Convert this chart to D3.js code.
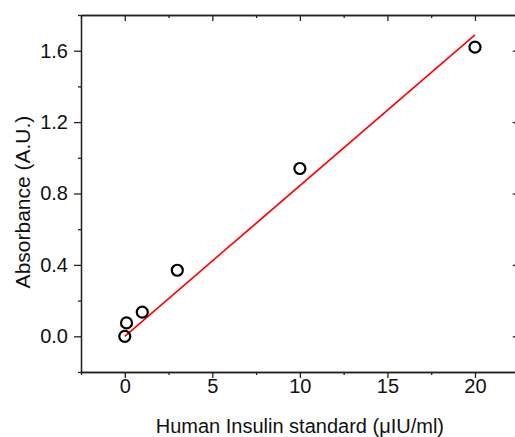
<!DOCTYPE html>
<html>
<head>
<meta charset="utf-8">
<script src="https://cdn.jsdelivr.net/npm/d3@7"></script>
<style>
  body { margin: 0; background: #fff; }
  svg { display: block; font-family: "Liberation Sans", Arial, sans-serif; }
  .axis path, .axis line { stroke: #222; stroke-width: 1.3; }
  .axis text { font-size: 20px; fill: #111; }
</style>
</head>
<body>
<div id="chart"></div>
<script>
// Insulin standard concentrations and measured absorbance
var concentration = [0, 0.1, 1, 3, 10, 20];
var absorbance = [0, 0.075, 0.135, 0.37, 0.94, 1.62];

var xTicks = [0, 5, 10, 15, 20];
var xMinor = [-2.5, 2.5, 7.5, 12.5, 17.5, 22.5];
var yTicks = [0, 0.4, 0.8, 1.2, 1.6];
var yMinor = [-0.2, 0.2, 0.6, 1.0, 1.4, 1.8];

var svgWidth = 515;
var svgHeight = 437;

var svg = d3.select("#chart")
    .append("svg")
    .attr("width", svgWidth)
    .attr("height", svgHeight);

// Plot frame edges
var frame = { left: 81, top: 15, right: 518.75, bottom: 372 };

var x = d3.scaleLinear().domain([-2.5, 22.5]).range([frame.left, frame.right]);
var y = d3.scaleLinear().domain([-0.2, 1.8]).range([frame.bottom, frame.top]);

// bottom axis (outward ticks)
svg.append("g")
    .attr("class", "axis")
    .attr("transform", `translate(0, ${frame.bottom})`)
    .call(d3.axisBottom(x).tickValues(xTicks).tickSize(6).tickPadding(1).tickSizeOuter(0).tickFormat(d3.format("d")));
svg.append("g")
    .attr("class", "axis")
    .attr("transform", `translate(0, ${frame.bottom})`)
    .call(d3.axisBottom(x).tickValues(xMinor).tickSize(3).tickSizeOuter(0).tickFormat(""));

// top axis (inward ticks)
svg.append("g")
    .attr("class", "axis")
    .attr("transform", `translate(0, ${frame.top})`)
    .call(d3.axisTop(x).tickValues(xTicks).tickSize(-6).tickSizeOuter(0).tickFormat(""));
svg.append("g")
    .attr("class", "axis")
    .attr("transform", `translate(0, ${frame.top})`)
    .call(d3.axisTop(x).tickValues(xMinor).tickSize(-3).tickSizeOuter(0).tickFormat(""));

// left axis (outward ticks)
svg.append("g")
    .attr("class", "axis")
    .attr("transform", `translate(${frame.left}, 0)`)
    .call(d3.axisLeft(y).tickValues(yTicks).tickSize(7).tickPadding(6).tickSizeOuter(0).tickFormat(d3.format(".1f")));
svg.append("g")
    .attr("class", "axis")
    .attr("transform", `translate(${frame.left}, 0)`)
    .call(d3.axisLeft(y).tickValues(yMinor).tickSize(3).tickSizeOuter(0).tickFormat(""));

// right axis (inward ticks)
svg.append("g")
    .attr("class", "axis")
    .attr("transform", `translate(${frame.right}, 0)`)
    .call(d3.axisRight(y).tickValues(yTicks).tickSize(-6).tickSizeOuter(0).tickFormat(""));
svg.append("g")
    .attr("class", "axis")
    .attr("transform", `translate(${frame.right}, 0)`)
    .call(d3.axisRight(y).tickValues(yMinor).tickSize(-3).tickSizeOuter(0).tickFormat(""));

// linear fit through the origin
var sxy = d3.sum(concentration, (c, i) => c * absorbance[i]);
var sxx = d3.sum(concentration, c => c * c);
var slope = sxy / sxx;
var xMax = d3.max(concentration);

svg.append("line")
    .attr("x1", x(0))
    .attr("y1", y(0))
    .attr("x2", x(xMax))
    .attr("y2", y(slope * xMax))
    .attr("stroke", "#ff0000")
    .attr("stroke-width", 1.6);

// data points
svg.append("g")
    .selectAll("circle")
    .data(concentration)
    .enter()
    .append("circle")
    .attr("cx", d => x(d))
    .attr("cy", (d, i) => y(absorbance[i]))
    .attr("r", 5.5)
    .attr("fill", "none")
    .attr("stroke", "#000")
    .attr("stroke-width", 2.2);

// axis labels
svg.append("text")
    .attr("x", x(10))
    .attr("y", 433)
    .attr("text-anchor", "middle")
    .attr("font-size", 20)
    .attr("fill", "#111")
    .text("Human Insulin standard (μIU/ml)");

svg.append("text")
    .attr("transform", "rotate(-90)")
    .attr("x", -202)
    .attr("y", 30)
    .attr("text-anchor", "middle")
    .attr("font-size", 21)
    .attr("fill", "#111")
    .text("Absorbance (A.U.)");
</script>
</body>
</html>
